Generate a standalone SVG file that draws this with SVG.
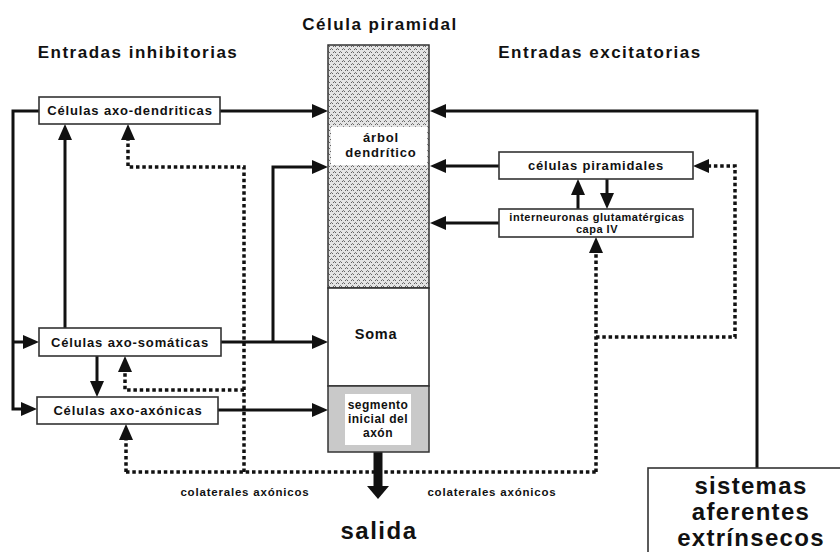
<svg xmlns="http://www.w3.org/2000/svg" width="840" height="552" viewBox="0 0 840 552">
<style>
text{font-family:"Liberation Sans",Arial,sans-serif;font-weight:bold;fill:#111;text-anchor:middle}
.box{fill:#fff;stroke:#333;stroke-width:1.6}
.ln{fill:none;stroke:#111;stroke-width:3;marker-end:url(#ah)}
.dt{fill:none;stroke:#111;stroke-width:3.5;stroke-dasharray:3.5 2.8}
.dta{fill:none;stroke:#111;stroke-width:3.5;stroke-dasharray:3.5 2.8;marker-end:url(#ah)}
.lbl{font-size:13px;letter-spacing:0.85px}
.h{font-size:17px;letter-spacing:1.5px}
.col{font-size:11.5px;letter-spacing:0.8px}
.big{font-size:24px;letter-spacing:1.3px}
</style>
<defs>
<marker id="ah" markerUnits="userSpaceOnUse" markerWidth="16" markerHeight="14" refX="8" refY="7" orient="auto" viewBox="0 0 16 14">
<path d="M0,0 L16,7 L0,14 z" fill="#111"/>
</marker>
<pattern id="hatch" width="6" height="6" patternUnits="userSpaceOnUse">
<rect width="6" height="6" fill="#e4e4e4"/>
<path d="M0,2 L1.5,0.5 L3,2 M3,5 L4.5,3.5 L6,5" fill="none" stroke="#555" stroke-width="0.9"/>
</pattern>
</defs>
<rect width="840" height="552" fill="#fff"/>

<g id="titles">
<text x="380" y="30" style="font-size:17px;letter-spacing:1.5px">Célula piramidal</text>
<text x="138" y="58" class="h">Entradas inhibitorias</text>
<text x="600" y="58" class="h">Entradas excitatorias</text>
</g>

<g id="connectors">
<path class="ln" d="M220,111 H320"/>
<path class="ln" d="M39,111 H13 V409 H29"/>
<path class="ln" d="M13,342 H31"/>
<path class="ln" d="M65,328 V132"/>
<path class="ln" d="M97,356 V389"/>
<path class="ln" d="M221,342 H320"/>
<path class="ln" d="M273,342 V167 H320"/>
<path class="ln" d="M218,410 H320"/>
<path class="ln" d="M757,468 V111 H438"/>
<path class="ln" d="M499,166 H438"/>
<path class="ln" d="M499,223 H438"/>
<path class="ln" d="M578,209 V187"/>
<path class="ln" d="M607,179 V201"/>
<path class="dt" d="M126,472 H596"/>
<path class="dta" d="M126,472 V432"/>
<path class="dta" d="M244,472 V167 H128 V132"/>
<path class="dta" d="M244,390 H125 V364"/>
<path class="dta" d="M596,472 V245"/>
<path class="dta" d="M596,337 H735 V166 H701"/>
<path d="M378,452 V488" stroke="#111" stroke-width="9" fill="none"/>
<path d="M367,486 L389,486 L378,499 z" fill="#111"/>
</g>

<g id="celula">
<rect x="328" y="45" width="101" height="243" fill="url(#hatch)" stroke="#333" stroke-width="1.5"/>
<rect x="331" y="127" width="96" height="38" fill="#fff"/>
<text x="381" y="142" class="lbl">árbol</text>
<text x="381" y="157" class="lbl">dendrítico</text>
</g>
<g id="soma">
<rect x="328" y="288" width="101" height="98" class="box"/>
<text x="376" y="339" style="font-size:14.5px;letter-spacing:0.8px">Soma</text>
</g>
<g id="segmento">
<rect x="328" y="386" width="101" height="66" fill="#c9c9c9" stroke="#333" stroke-width="1.5"/>
<rect x="345" y="394" width="66" height="51" fill="#fff"/>
<text x="378" y="409" style="font-size:12px;letter-spacing:0.5px">segmento</text>
<text x="378" y="423" style="font-size:12px;letter-spacing:0.5px">inicial del</text>
<text x="378" y="437" style="font-size:12px;letter-spacing:0.5px">axón</text>
</g>

<g id="axo-dendriticas">
<rect x="39" y="97" width="181" height="27" class="box"/>
<text x="130" y="115" class="lbl">Células axo-dendriticas</text>
</g>
<g id="axo-somaticas">
<rect x="39" y="328" width="182" height="28" class="box"/>
<text x="130" y="347" class="lbl">Células axo-somáticas</text>
</g>
<g id="axo-axonicas">
<rect x="37" y="397" width="181" height="27" class="box"/>
<text x="128" y="415" class="lbl">Células axo-axónicas</text>
</g>
<g id="piramidales">
<rect x="499" y="152" width="194" height="27" class="box"/>
<text x="596" y="170" class="lbl">células piramidales</text>
</g>
<g id="interneuronas">
<rect x="499" y="209" width="194" height="28" class="box"/>
<text x="597" y="221" style="font-size:11px;letter-spacing:0.5px">interneuronas glutamatérgicas</text>
<text x="597" y="233" style="font-size:11px;letter-spacing:0.5px">capa IV</text>
</g>
<g id="sistemas">
<rect x="648" y="468" width="200" height="100" class="box"/>
<text x="751" y="494" class="big">sistemas</text>
<text x="751" y="520" class="big">aferentes</text>
<text x="751" y="546" class="big">extrínsecos</text>
</g>
<g id="labels">
<text x="245" y="496" class="col">colaterales axónicos</text>
<text x="492" y="496" class="col">colaterales axónicos</text>
<text x="379" y="539" style="font-size:24px;letter-spacing:1.5px">salida</text>
</g>
</svg>
